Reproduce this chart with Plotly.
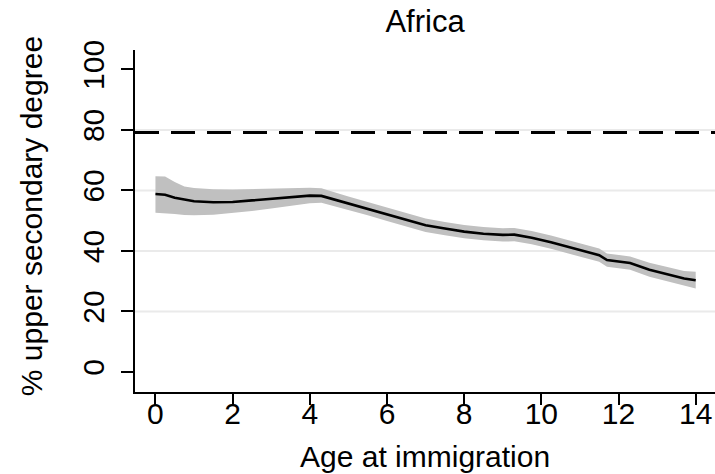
import plotly.graph_objects as go

# ---- data ----
age = [0, 0.25, 0.5, 0.75, 1, 1.5, 2, 2.5, 3, 3.5, 4, 4.3, 4.75, 5, 5.5, 6, 6.5, 7,
       7.5, 8, 8.5, 9, 9.3, 9.75, 10.25, 10.75, 11.25, 11.5, 11.7, 12.0, 12.3, 12.8,
       13.3, 13.7, 14]
share = [58.8, 58.6, 57.6, 56.9, 56.4, 56.1, 56.2, 56.7, 57.2, 57.8, 58.3, 58.2, 56.6,
         55.8, 54.0, 52.1, 50.3, 48.5, 47.4, 46.4, 45.7, 45.3, 45.4, 44.4, 42.9, 41.1,
         39.5, 38.6, 37.0, 36.5, 36.0, 33.8, 32.2, 30.9, 30.3]
ci_low = [52.6, 52.5, 52.2, 51.9, 51.8, 52.0, 52.5, 53.2, 54.0, 55.0, 55.8, 55.9, 54.4,
          53.6, 51.8, 49.9, 48.1, 46.3, 45.2, 44.2, 43.5, 43.1, 43.2, 42.2, 40.7, 38.9,
          37.3, 36.4, 34.8, 34.3, 33.8, 31.5, 29.8, 28.4, 27.6]
ci_high = [64.7, 64.6, 62.8, 61.3, 60.8, 60.4, 60.3, 60.4, 60.6, 60.8, 60.9, 60.7, 58.9,
           58.0, 56.2, 54.3, 52.5, 50.7, 49.6, 48.6, 47.9, 47.5, 47.6, 46.6, 45.1, 43.3,
           41.7, 40.8, 39.2, 38.7, 38.2, 36.1, 34.6, 33.4, 33.1]
reference_level = 79.1
x_ticks = [0, 2, 4, 6, 8, 10, 12, 14]
y_ticks = [0, 20, 40, 60, 80, 100]
grid_levels = [20, 40, 60, 80]

FONT = "Liberation Sans, Arial, sans-serif"

fig = go.Figure()
fig.add_trace(go.Scatter(x=age, y=ci_low, mode="lines", line=dict(width=0, color="#c0c0c0"),
                         showlegend=False, hoverinfo="skip"))
fig.add_trace(go.Scatter(x=age, y=ci_high, mode="lines", line=dict(width=0, color="#c0c0c0"),
                         fill="tonexty", fillcolor="#c0c0c0", showlegend=False, hoverinfo="skip"))
fig.add_trace(go.Scatter(x=age, y=share, mode="lines", line=dict(width=2.6, color="black"),
                         showlegend=False))

for g in grid_levels:
    fig.add_shape(type="line", xref="paper", x0=0, x1=1, yref="y", y0=g, y1=g,
                  line=dict(color="#eaeaea", width=2), layer="below")

fig.add_shape(type="line", xref="paper", x0=0, x1=1, yref="y", y0=reference_level,
              y1=reference_level, line=dict(color="black", width=3, dash="24px,12px"))

fig.update_layout(
    width=715, height=474,
    margin=dict(l=135, r=0, t=50, b=82),
    plot_bgcolor="white", paper_bgcolor="white",
    font=dict(family=FONT, size=30, color="black"),
    title=dict(text="Africa", x=0.5, xref="paper", xanchor="center",
               y=1 - 21 / 474, yref="container", yanchor="middle",
               font=dict(size=31, color="black")),
    xaxis=dict(range=[-0.53, 14.5], tickvals=x_ticks, ticks="outside", ticklen=11,
               tickwidth=1.5, tickcolor="black", showline=True, linecolor="black",
               linewidth=1.5, showgrid=False, zeroline=False, ticklabelstandoff=-17,
               tickfont=dict(size=30)),
    yaxis=dict(range=[-6.6, 106.4], tickvals=y_ticks, ticks="outside", ticklen=12,
               tickwidth=1.5, tickcolor="black", showline=True, linecolor="black",
               linewidth=1.5, showgrid=False, zeroline=False, tickangle=-90,
               ticklabelstandoff=5, tickfont=dict(size=30)),
    annotations=[
        dict(text="Age at immigration", xref="paper", yref="paper", x=0.5,
             y=(391.7 - 456) / 341.7, xanchor="center", yanchor="middle",
             showarrow=False, font=dict(size=30)),
        dict(text="% upper secondary degree", xref="paper", yref="paper",
             x=(31 - 135) / 580, y=(391.7 - 216) / 341.7, xanchor="center",
             yanchor="middle", textangle=-90, showarrow=False, font=dict(size=30)),
    ],
)

fig.write_html("out.html")
